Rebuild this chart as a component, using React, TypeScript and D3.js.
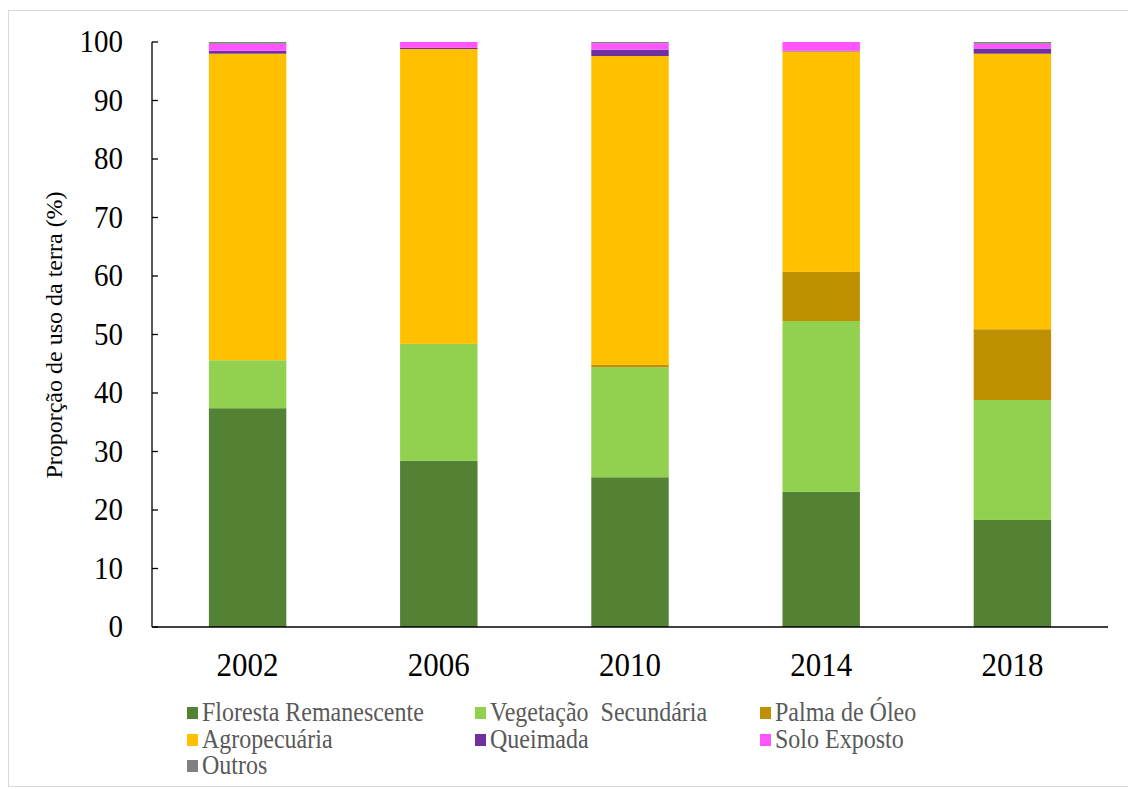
import React from "react";
import * as d3 from "d3";

const years = ["2002", "2006", "2010", "2014", "2018"];
const seriesNames = [
  "Floresta Remanescente",
  "Vegetação  Secundária",
  "Palma de Óleo",
  "Agropecuária",
  "Queimada",
  "Solo Exposto",
  "Outros",
];
const floresta = [37.4, 28.4, 25.6, 23.1, 18.3];
const vegetacao = [8.2, 20.0, 18.8, 29.2, 20.5];
const palma = [0, 0, 0.4, 8.4, 12.1];
const agropecuaria = [52.4, 50.4, 52.8, 37.7, 47.1];
const queimada = [0.5, 0.2, 1.1, 0.1, 0.9];
const solo = [1.2, 1.0, 1.1, 1.5, 0.8];
const outros = [0.3, 0.0, 0.2, 0.0, 0.3];
const colors = ["#548235", "#92D050", "#BF9000", "#FFC000", "#7030A0", "#FF55FF", "#808080"];
const yTicks = [0, 10, 20, 30, 40, 50, 60, 70, 80, 90, 100];

export default function App() {
  const W = 1128, H = 789;
  const left = 152, right = 1108, top = 42, bottom = 627;
  const x = d3.scaleBand().domain(years).range([left, right]).paddingInner(0.595).paddingOuter(0.2975);
  const y = d3.scaleLinear().domain([0, 100]).range([bottom, top]);
  const valuesBySeries = [floresta, vegetacao, palma, agropecuaria, queimada, solo, outros];
  const rows = years.map((yr, i) => {
    const o: any = { year: yr };
    seriesNames.forEach((s, j) => (o[s] = valuesBySeries[j][i]));
    return o;
  });
  const stacked = d3.stack().keys(seriesNames)(rows);
  const font = "Liberation Serif";
  const legendCols = [187, 475, 760];
  const legendRows = [713, 740, 766];
  return (
    <svg width={W} height={H} style={{ position: "absolute", left: 0, top: 0, fontFamily: font }}>
      <rect x={0} y={0} width={W} height={H} fill="#fff" />
      <rect x={8.5} y={10.5} width={1130} height={776} fill="none" stroke="#d9d9d9" strokeWidth={1} />
      {stacked.map((layer, j) => (
        <g key={j}>
          {layer.map((d, i) => (
            <rect
              key={i}
              x={x(years[i])}
              width={x.bandwidth()}
              y={y(d[1])}
              height={Math.max(0, y(d[0]) - y(d[1]))}
              fill={colors[j]}
            />
          ))}
        </g>
      ))}
      <line x1={left} x2={left} y1={top} y2={bottom} stroke="#000" strokeWidth={1.3} />
      <line x1={left} x2={right} y1={bottom} y2={bottom} stroke="#000" strokeWidth={1.3} />
      {yTicks.map((t) => (
        <g key={t}>
          <line x1={left} x2={left + 6} y1={y(t)} y2={y(t)} stroke="#000" strokeWidth={1.3} />
          <text
            transform={`translate(123,${y(t) + 10}) scale(1,1.1)`}
            textAnchor="end"
            style={{ fontFamily: font, fontSize: 29 }}
            fill="#000"
          >
            {t}
          </text>
        </g>
      ))}
      {years.map((yr) => (
        <text
          key={yr}
          transform={`translate(${(x(yr) as number) + x.bandwidth() / 2},676) scale(1,1.1)`}
          textAnchor="middle"
          style={{ fontFamily: font, fontSize: 31 }}
          fill="#000"
        >
          {yr}
        </text>
      ))}
      <text
        transform={`translate(62,335) rotate(-90)`}
        textAnchor="middle"
        style={{ fontFamily: font, fontSize: 24 }}
        fill="#000"
      >
        Proporção de uso da terra (%)
      </text>
      {seriesNames.map((s, j) => {
        const cx = legendCols[j % 3];
        const cy = legendRows[Math.floor(j / 3)];
        return (
          <g key={s}>
            <rect x={cx} y={cy - 6} width={11} height={12} fill={colors[j]} />
            <text
              transform={`translate(${cx + 15},${cy + 8}) scale(1,1.1)`}
              style={{ fontFamily: font, fontSize: 24, whiteSpace: "pre" }}
              fill="#595959"
            >
              {s}
            </text>
          </g>
        );
      })}
    </svg>
  );
}
